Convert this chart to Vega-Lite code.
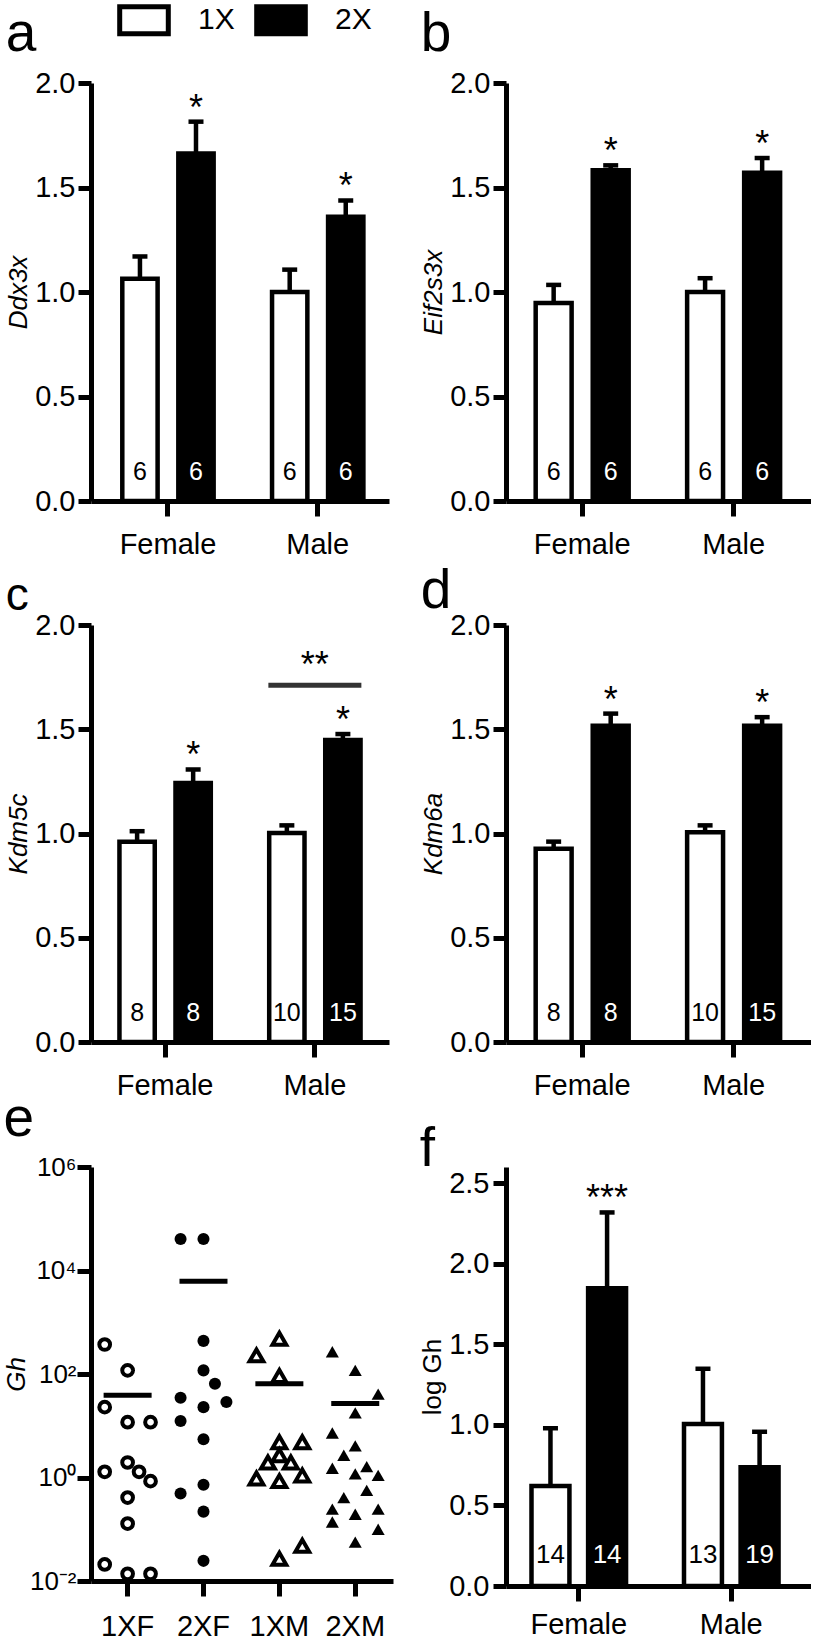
{
"$schema": "https://vega.github.io/schema/vega-lite/v6.json",
"background": "white",
"padding": {"left": 3, "top": 4, "right": 0, "bottom": 0},
"config": {
  "font": "Liberation Sans",
  "view": {"stroke": null},
  "title": {"anchor": "start", "frame": "bounds", "fontWeight": "normal", "color": "black", "font": "Liberation Sans"},
  "axis": {"domainColor": "black", "domainWidth": 5, "tickColor": "black", "tickWidth": 5, "labelColor": "black", "labelFont": "Liberation Sans", "labelFontSize": 29, "titleFont": "Liberation Sans", "titleColor": "black", "titleFontWeight": "normal", "grid": false},
  "axisY": {"tickSize": 13, "labelPadding": 3, "titleFontSize": 26, "titleFontStyle": "italic", "titlePadding": 3, "labelFlush": false},
  "axisX": {"tickSize": 15, "labelPadding": 14, "labelAngle": 0, "title": null},
  "tick": {"opacity": 1}
},
"columns": 2,
"align": "all",
"bounds": "flush",
"spacing": {"row": 123, "column": 110},
"resolve": {"scale": {"xOffset": "independent"}},
"datasets": {
  "bars": [
    {"panel": "a", "sex": "Female", "g": "1X", "mean": 1.063, "upper": 1.17, "n": "6", "star": ""},
    {"panel": "a", "sex": "Female", "g": "2X", "mean": 1.663, "upper": 1.815, "n": "6", "star": "*"},
    {"panel": "a", "sex": "Male", "g": "1X", "mean": 1.0, "upper": 1.107, "n": "6", "star": ""},
    {"panel": "a", "sex": "Male", "g": "2X", "mean": 1.36, "upper": 1.438, "n": "6", "star": "*"},
    {"panel": "b", "sex": "Female", "g": "1X", "mean": 0.947, "upper": 1.034, "n": "6", "star": ""},
    {"panel": "b", "sex": "Female", "g": "2X", "mean": 1.582, "upper": 1.606, "n": "6", "star": "*"},
    {"panel": "b", "sex": "Male", "g": "1X", "mean": 1.0, "upper": 1.066, "n": "6", "star": ""},
    {"panel": "b", "sex": "Male", "g": "2X", "mean": 1.57, "upper": 1.641, "n": "6", "star": "*"},
    {"panel": "c", "sex": "Female", "g": "1X", "mean": 0.96, "upper": 1.011, "n": "8", "star": ""},
    {"panel": "c", "sex": "Female", "g": "2X", "mean": 1.242, "upper": 1.307, "n": "8", "star": "*"},
    {"panel": "c", "sex": "Male", "g": "1X", "mean": 1.0025, "upper": 1.039, "n": "10", "star": ""},
    {"panel": "c", "sex": "Male", "g": "2X", "mean": 1.448, "upper": 1.477, "n": "15", "star": "*"},
    {"panel": "d", "sex": "Female", "g": "1X", "mean": 0.927, "upper": 0.961, "n": "8", "star": ""},
    {"panel": "d", "sex": "Female", "g": "2X", "mean": 1.517, "upper": 1.575, "n": "8", "star": "*"},
    {"panel": "d", "sex": "Male", "g": "1X", "mean": 1.006, "upper": 1.039, "n": "10", "star": ""},
    {"panel": "d", "sex": "Male", "g": "2X", "mean": 1.517, "upper": 1.558, "n": "15", "star": "*"},
    {"panel": "f", "sex": "Female", "g": "1X", "mean": 0.62, "upper": 0.979, "n": "14", "star": ""},
    {"panel": "f", "sex": "Female", "g": "2X", "mean": 1.848, "upper": 2.318, "n": "14", "star": "***"},
    {"panel": "f", "sex": "Male", "g": "1X", "mean": 1.006, "upper": 1.348, "n": "13", "star": ""},
    {"panel": "f", "sex": "Male", "g": "2X", "mean": 0.737, "upper": 0.957, "n": "19", "star": ""}
  ],
  "brackets": [
    {"panel": "c", "sex": "Male", "y": 1.711, "label": "**"}
  ],
  "ghmean": [
    {"grp": "1XF", "gm": 38.9},
    {"grp": "2XF", "gm": 6166},
    {"grp": "1XM", "gm": 64.6},
    {"grp": "2XM", "gm": 26.9}
  ],
  "gh": [
    {"grp": "1XF", "col": -2, "gh": 371.5},
    {"grp": "1XF", "col": 0, "gh": 117.5},
    {"grp": "1XF", "col": -2, "gh": 22.9},
    {"grp": "1XF", "col": 0, "gh": 11.7},
    {"grp": "1XF", "col": 2, "gh": 11.7},
    {"grp": "1XF", "col": 0, "gh": 1.95},
    {"grp": "1XF", "col": -2, "gh": 1.29},
    {"grp": "1XF", "col": 1, "gh": 1.29},
    {"grp": "1XF", "col": 2, "gh": 0.85},
    {"grp": "1XF", "col": 0, "gh": 0.41},
    {"grp": "1XF", "col": 0, "gh": 0.129},
    {"grp": "1XF", "col": -2, "gh": 0.0209},
    {"grp": "1XF", "col": 0, "gh": 0.0138},
    {"grp": "1XF", "col": 2, "gh": 0.0138},
    {"grp": "2XF", "col": -2, "gh": 40738},
    {"grp": "2XF", "col": 0, "gh": 40738},
    {"grp": "2XF", "col": 0, "gh": 436.5},
    {"grp": "2XF", "col": 0, "gh": 117.5},
    {"grp": "2XF", "col": 1, "gh": 64.6},
    {"grp": "2XF", "col": -2, "gh": 34.7},
    {"grp": "2XF", "col": 0, "gh": 22.9},
    {"grp": "2XF", "col": 2, "gh": 28.8},
    {"grp": "2XF", "col": -2, "gh": 12.3},
    {"grp": "2XF", "col": 0, "gh": 5.5},
    {"grp": "2XF", "col": 0, "gh": 0.724},
    {"grp": "2XF", "col": -2, "gh": 0.49},
    {"grp": "2XF", "col": 0, "gh": 0.219},
    {"grp": "2XF", "col": 0, "gh": 0.0245},
    {"grp": "1XM", "col": 0, "gh": 478.6},
    {"grp": "1XM", "col": -2, "gh": 229},
    {"grp": "1XM", "col": 0, "gh": 91.2},
    {"grp": "1XM", "col": 0, "gh": 4.79},
    {"grp": "1XM", "col": 2, "gh": 4.79},
    {"grp": "1XM", "col": 0, "gh": 2.69},
    {"grp": "1XM", "col": 1, "gh": 1.95},
    {"grp": "1XM", "col": -1, "gh": 1.95},
    {"grp": "1XM", "col": -2, "gh": 0.955},
    {"grp": "1XM", "col": 0, "gh": 0.851},
    {"grp": "1XM", "col": 2, "gh": 1.096},
    {"grp": "1XM", "col": 0, "gh": 0.0269},
    {"grp": "1XM", "col": 2, "gh": 0.0479},
    {"grp": "2XM", "col": -2, "gh": 269},
    {"grp": "2XM", "col": 0, "gh": 117.5},
    {"grp": "2XM", "col": 2, "gh": 40.7},
    {"grp": "2XM", "col": 0, "gh": 17.8},
    {"grp": "2XM", "col": -2, "gh": 7.24},
    {"grp": "2XM", "col": 0, "gh": 4.07},
    {"grp": "2XM", "col": -1, "gh": 2.69},
    {"grp": "2XM", "col": -2, "gh": 1.51},
    {"grp": "2XM", "col": 1, "gh": 1.62},
    {"grp": "2XM", "col": 0, "gh": 1.17},
    {"grp": "2XM", "col": 2, "gh": 1.1},
    {"grp": "2XM", "col": 1, "gh": 0.562},
    {"grp": "2XM", "col": -1, "gh": 0.407},
    {"grp": "2XM", "col": -2, "gh": 0.245},
    {"grp": "2XM", "col": 2, "gh": 0.245},
    {"grp": "2XM", "col": 0, "gh": 0.195},
    {"grp": "2XM", "col": -2, "gh": 0.138},
    {"grp": "2XM", "col": 2, "gh": 0.1},
    {"grp": "2XM", "col": 0, "gh": 0.0562}
  ]
},
"concat": [
  {
    "width": 298, "height": 418,
    "title": {"text": "a", "fontSize": 55, "offset": 6},
    "data": {"name": "bars"},
    "transform": [{"filter": "datum.panel === 'a'"}],
    "encoding": {
      "x": {"field": "sex", "type": "nominal", "sort": ["Female", "Male"], "title": null, "scale": {"paddingInner": 0.39, "paddingOuter": 0.19, "align": 0.55}},
      "xOffset": {"field": "g", "type": "nominal", "sort": ["1X", "2X"], "scale": {"paddingInner": 0.37, "paddingOuter": 0}}
    },
    "layer": [
      {"mark": {"type": "bar", "stroke": "black", "strokeWidth": 4.5},
       "encoding": {
         "y": {"field": "mean", "type": "quantitative", "title": "Ddx3x", "scale": {"domain": [0, 2]}, "axis": {"values": [0, 0.5, 1, 1.5, 2], "format": ".1f"}},
         "fill": {"field": "g", "type": "nominal", "scale": {"domain": ["1X", "2X"], "range": ["white", "black"]},
                  "legend": {"orient": "none", "legendX": 37, "legendY": -79, "direction": "horizontal", "title": null, "symbolType": "M-1.8,-1H1.8V1H-1.8Z", "symbolSize": 729, "symbolStrokeWidth": 5, "symbolStrokeColor": "black", "labelFontSize": 30, "labelColor": "black", "labelOffset": 38, "columnPadding": 11, "padding": 0}}
       }},
      {"mark": {"type": "rule", "strokeWidth": 4.5, "color": "black"},
       "encoding": {"y": {"field": "mean", "type": "quantitative", "title": "Ddx3x"}, "y2": {"field": "upper"}}},
      {"mark": {"type": "tick", "orient": "horizontal", "thickness": 4.5, "size": 15, "color": "black", "opacity": 1},
       "encoding": {"y": {"field": "upper", "type": "quantitative", "title": "Ddx3x"}}},
      {"mark": {"type": "text", "fontSize": 36, "baseline": "alphabetic", "dy": -2, "color": "black"},
       "encoding": {"y": {"field": "upper", "type": "quantitative", "title": "Ddx3x"}, "text": {"field": "star"}}},
      {"mark": {"type": "text", "fontSize": 25, "baseline": "middle", "dy": -29},
       "encoding": {"y": {"datum": 0}, "text": {"field": "n"}, "color": {"condition": {"test": "datum.g === '2X'", "value": "white"}, "value": "black"}}}
    ]
  },
  {
    "width": 305, "height": 418,
    "title": {"text": "b", "fontSize": 55, "offset": 6},
    "data": {"name": "bars"},
    "transform": [{"filter": "datum.panel === 'b'"}],
    "encoding": {
      "x": {"field": "sex", "type": "nominal", "sort": ["Female", "Male"], "title": null, "scale": {"paddingInner": 0.386, "paddingOuter": 0.2, "align": 0.49}},
      "xOffset": {"field": "g", "type": "nominal", "sort": ["1X", "2X"], "scale": {"paddingInner": 0.37, "paddingOuter": 0}}
    },
    "layer": [
      {"mark": {"type": "bar", "stroke": "black", "strokeWidth": 4.5},
       "encoding": {
         "y": {"field": "mean", "type": "quantitative", "title": "Eif2s3x", "scale": {"domain": [0, 2]}, "axis": {"values": [0, 0.5, 1, 1.5, 2], "format": ".1f"}},
         "fill": {"field": "g", "type": "nominal", "scale": {"domain": ["1X", "2X"], "range": ["white", "black"]},
                  "legend": {"orient": "none", "legendX": 37, "legendY": -79, "direction": "horizontal", "title": null, "symbolType": "M-1.8,-1H1.8V1H-1.8Z", "symbolSize": 729, "symbolStrokeWidth": 5, "symbolStrokeColor": "black", "labelFontSize": 30, "labelColor": "black", "labelOffset": 38, "columnPadding": 11, "padding": 0}}
       }},
      {"mark": {"type": "rule", "strokeWidth": 4.5, "color": "black"},
       "encoding": {"y": {"field": "mean", "type": "quantitative", "title": "Eif2s3x"}, "y2": {"field": "upper"}}},
      {"mark": {"type": "tick", "orient": "horizontal", "thickness": 4.5, "size": 15, "color": "black", "opacity": 1},
       "encoding": {"y": {"field": "upper", "type": "quantitative", "title": "Eif2s3x"}}},
      {"mark": {"type": "text", "fontSize": 36, "baseline": "alphabetic", "dy": -2, "color": "black"},
       "encoding": {"y": {"field": "upper", "type": "quantitative", "title": "Eif2s3x"}, "text": {"field": "star"}}},
      {"mark": {"type": "text", "fontSize": 25, "baseline": "middle", "dy": -29},
       "encoding": {"y": {"datum": 0}, "text": {"field": "n"}, "color": {"condition": {"test": "datum.g === '2X'", "value": "white"}, "value": "black"}}}
    ]
  },
  {
    "width": 298, "height": 417,
    "title": {"text": "c", "fontSize": 46, "offset": -9},
    "data": {"name": "bars"},
    "encoding": {
      "x": {"field": "sex", "type": "nominal", "sort": ["Female", "Male"], "title": null, "scale": {"paddingInner": 0.39, "paddingOuter": 0.19, "align": 0.5}}
    },
    "layer": [
      {"transform": [{"filter": "datum.panel === 'c'"}],
       "mark": {"type": "bar", "stroke": "black", "strokeWidth": 4.5},
       "encoding": {
         "xOffset": {"field": "g", "type": "nominal", "sort": ["1X", "2X"], "scale": {"paddingInner": 0.37, "paddingOuter": 0}},
         "y": {"field": "mean", "type": "quantitative", "title": "Kdm5c", "scale": {"domain": [0, 2]}, "axis": {"values": [0, 0.5, 1, 1.5, 2], "format": ".1f"}},
         "fill": {"field": "g", "type": "nominal", "scale": {"domain": ["1X", "2X"], "range": ["white", "black"]},
                  "legend": {"orient": "none", "legendX": 37, "legendY": -79, "direction": "horizontal", "title": null, "symbolType": "M-1.8,-1H1.8V1H-1.8Z", "symbolSize": 729, "symbolStrokeWidth": 5, "symbolStrokeColor": "black", "labelFontSize": 30, "labelColor": "black", "labelOffset": 38, "columnPadding": 11, "padding": 0}}
       }},
      {"transform": [{"filter": "datum.panel === 'c'"}],
       "mark": {"type": "rule", "strokeWidth": 4.5, "color": "black"},
       "encoding": {"xOffset": {"field": "g", "type": "nominal", "sort": ["1X", "2X"]}, "y": {"field": "mean", "type": "quantitative", "title": "Kdm5c"}, "y2": {"field": "upper"}}},
      {"transform": [{"filter": "datum.panel === 'c'"}],
       "mark": {"type": "tick", "orient": "horizontal", "thickness": 4.5, "size": 15, "color": "black", "opacity": 1},
       "encoding": {"xOffset": {"field": "g", "type": "nominal", "sort": ["1X", "2X"]}, "y": {"field": "upper", "type": "quantitative", "title": "Kdm5c"}}},
      {"transform": [{"filter": "datum.panel === 'c'"}],
       "mark": {"type": "text", "fontSize": 36, "baseline": "alphabetic", "dy": -2, "color": "black"},
       "encoding": {"xOffset": {"field": "g", "type": "nominal", "sort": ["1X", "2X"]}, "y": {"field": "upper", "type": "quantitative", "title": "Kdm5c"}, "text": {"field": "star"}}},
      {"transform": [{"filter": "datum.panel === 'c'"}],
       "mark": {"type": "text", "fontSize": 25, "baseline": "middle", "dy": -29},
       "encoding": {"xOffset": {"field": "g", "type": "nominal", "sort": ["1X", "2X"]}, "y": {"datum": 0}, "text": {"field": "n"}, "color": {"condition": {"test": "datum.g === '2X'", "value": "white"}, "value": "black"}}},
      {"data": {"name": "brackets"},
       "mark": {"type": "tick", "orient": "horizontal", "thickness": 5, "size": 93, "color": "#333333", "opacity": 1},
       "encoding": {"y": {"field": "y", "type": "quantitative", "title": "Kdm5c"}}},
      {"data": {"name": "brackets"},
       "mark": {"type": "text", "fontSize": 36, "baseline": "alphabetic", "dy": -8, "color": "black"},
       "encoding": {"y": {"field": "y", "type": "quantitative", "title": "Kdm5c"}, "text": {"field": "label"}}}
    ]
  },
  {
    "width": 305, "height": 417,
    "title": {"text": "d", "fontSize": 55, "offset": -9},
    "data": {"name": "bars"},
    "transform": [{"filter": "datum.panel === 'd'"}],
    "encoding": {
      "x": {"field": "sex", "type": "nominal", "sort": ["Female", "Male"], "title": null, "scale": {"paddingInner": 0.386, "paddingOuter": 0.2, "align": 0.49}},
      "xOffset": {"field": "g", "type": "nominal", "sort": ["1X", "2X"], "scale": {"paddingInner": 0.37, "paddingOuter": 0}}
    },
    "layer": [
      {"mark": {"type": "bar", "stroke": "black", "strokeWidth": 4.5},
       "encoding": {
         "y": {"field": "mean", "type": "quantitative", "title": "Kdm6a", "scale": {"domain": [0, 2]}, "axis": {"values": [0, 0.5, 1, 1.5, 2], "format": ".1f"}},
         "fill": {"field": "g", "type": "nominal", "scale": {"domain": ["1X", "2X"], "range": ["white", "black"]},
                  "legend": {"orient": "none", "legendX": 37, "legendY": -79, "direction": "horizontal", "title": null, "symbolType": "M-1.8,-1H1.8V1H-1.8Z", "symbolSize": 729, "symbolStrokeWidth": 5, "symbolStrokeColor": "black", "labelFontSize": 30, "labelColor": "black", "labelOffset": 38, "columnPadding": 11, "padding": 0}}
       }},
      {"mark": {"type": "rule", "strokeWidth": 4.5, "color": "black"},
       "encoding": {"y": {"field": "mean", "type": "quantitative", "title": "Kdm6a"}, "y2": {"field": "upper"}}},
      {"mark": {"type": "tick", "orient": "horizontal", "thickness": 4.5, "size": 15, "color": "black", "opacity": 1},
       "encoding": {"y": {"field": "upper", "type": "quantitative", "title": "Kdm6a"}}},
      {"mark": {"type": "text", "fontSize": 36, "baseline": "alphabetic", "dy": -2, "color": "black"},
       "encoding": {"y": {"field": "upper", "type": "quantitative", "title": "Kdm6a"}, "text": {"field": "star"}}},
      {"mark": {"type": "text", "fontSize": 25, "baseline": "middle", "dy": -29},
       "encoding": {"y": {"datum": 0}, "text": {"field": "n"}, "color": {"condition": {"test": "datum.g === '2X'", "value": "white"}, "value": "black"}}}
    ]
  },
  {
    "width": 302, "height": 414,
    "title": {"text": "e", "fontSize": 55, "offset": 6},
    "encoding": {
      "x": {"field": "grp", "type": "nominal", "sort": ["1XF", "2XF", "1XM", "2XM"], "title": null, "axis": {"labelPadding": 16}, "scale": {"domain": ["1XF", "2XF", "1XM", "2XM"], "paddingInner": 0.396, "paddingOuter": 0.188, "align": 0.48}}
    },
    "layer": [
      {"data": {"name": "ghmean"},
       "mark": {"type": "tick", "orient": "horizontal", "thickness": 5, "size": 48, "color": "black", "opacity": 1},
       "encoding": {"y": {"field": "gm", "type": "quantitative", "title": "Gh", "scale": {"type": "log", "domain": [0.01, 1000000], "nice": false},
         "axis": {"values": [0.01, 1, 100, 10000, 1000000], "labelExpr": "datum.value >= 999999 ? '10⁶' : datum.value >= 9999 ? '10⁴' : datum.value >= 99 ? '10²' : datum.value >= 0.99 ? '10⁰' : '10⁻²'", "labelPadding": 1, "tickSize": 14, "labelFontSize": 26, "titlePadding": 0}}}},
      {"data": {"name": "gh"},
       "transform": [{"filter": "datum.grp === '1XF' || datum.grp === '1XM'"}],
       "mark": {"type": "point", "filled": false, "color": "black", "strokeWidth": 4, "opacity": 1, "fill": "white"},
       "encoding": {
         "xOffset": {"field": "col", "type": "ordinal", "scale": {"domain": [-2, -1, 0, 1, 2], "paddingInner": 0, "paddingOuter": 0}},
         "y": {"field": "gh", "type": "quantitative", "title": "Gh"},
         "shape": {"condition": {"test": "datum.grp === '1XF'", "value": "circle"}, "value": "triangle-up"},
         "size": {"condition": {"test": "datum.grp === '1XF'", "value": 115}, "value": 190}
       }},
      {"data": {"name": "gh"},
       "transform": [{"filter": "datum.grp === '2XF' || datum.grp === '2XM'"}],
       "mark": {"type": "point", "filled": true, "color": "black", "opacity": 1, "strokeWidth": 0},
       "encoding": {
         "xOffset": {"field": "col", "type": "ordinal", "scale": {"domain": [-2, -1, 0, 1, 2], "paddingInner": 0, "paddingOuter": 0}},
         "y": {"field": "gh", "type": "quantitative", "title": "Gh"},
         "shape": {"condition": {"test": "datum.grp === '2XF'", "value": "circle"}, "value": "triangle-up"},
         "size": {"condition": {"test": "datum.grp === '2XF'", "value": 145}, "value": 170}
       }}
    ]
  },
  {
    "width": 305, "height": 419,
    "title": {"text": "f", "fontSize": 55, "offset": -11},
    "data": {"name": "bars"},
    "transform": [{"filter": "datum.panel === 'f'"}],
    "encoding": {
      "x": {"field": "sex", "type": "nominal", "sort": ["Female", "Male"], "title": null, "axis": {"labelPadding": 9}, "scale": {"paddingInner": 0.38, "paddingOuter": 0.19, "align": 0.44}},
      "xOffset": {"field": "g", "type": "nominal", "sort": ["1X", "2X"], "scale": {"paddingInner": 0.33, "paddingOuter": 0}}
    },
    "layer": [
      {"mark": {"type": "bar", "stroke": "black", "strokeWidth": 4.5},
       "encoding": {
         "y": {"field": "mean", "type": "quantitative", "title": "log Gh", "scale": {"domain": [0, 2.5]}, "axis": {"values": [0, 0.5, 1, 1.5, 2, 2.5], "format": ".1f", "titleFontStyle": "normal", "labelPadding": 4}},
         "fill": {"field": "g", "type": "nominal", "scale": {"domain": ["1X", "2X"], "range": ["white", "black"]},
                  "legend": {"orient": "none", "legendX": 37, "legendY": -79, "direction": "horizontal", "title": null, "symbolType": "M-1.8,-1H1.8V1H-1.8Z", "symbolSize": 729, "symbolStrokeWidth": 5, "symbolStrokeColor": "black", "labelFontSize": 30, "labelColor": "black", "labelOffset": 38, "columnPadding": 11, "padding": 0}}
       }},
      {"mark": {"type": "rule", "strokeWidth": 4.5, "color": "black"},
       "encoding": {"y": {"field": "mean", "type": "quantitative", "title": "log Gh"}, "y2": {"field": "upper"}}},
      {"mark": {"type": "tick", "orient": "horizontal", "thickness": 4.5, "size": 15, "color": "black", "opacity": 1},
       "encoding": {"y": {"field": "upper", "type": "quantitative", "title": "log Gh"}}},
      {"mark": {"type": "text", "fontSize": 36, "baseline": "alphabetic", "dy": -2, "color": "black"},
       "encoding": {"y": {"field": "upper", "type": "quantitative", "title": "log Gh"}, "text": {"field": "star"}}},
      {"mark": {"type": "text", "fontSize": 26, "baseline": "middle", "dy": -31},
       "encoding": {"y": {"datum": 0}, "text": {"field": "n"}, "color": {"condition": {"test": "datum.g === '2X'", "value": "white"}, "value": "black"}}}
    ]
  }
]
}
